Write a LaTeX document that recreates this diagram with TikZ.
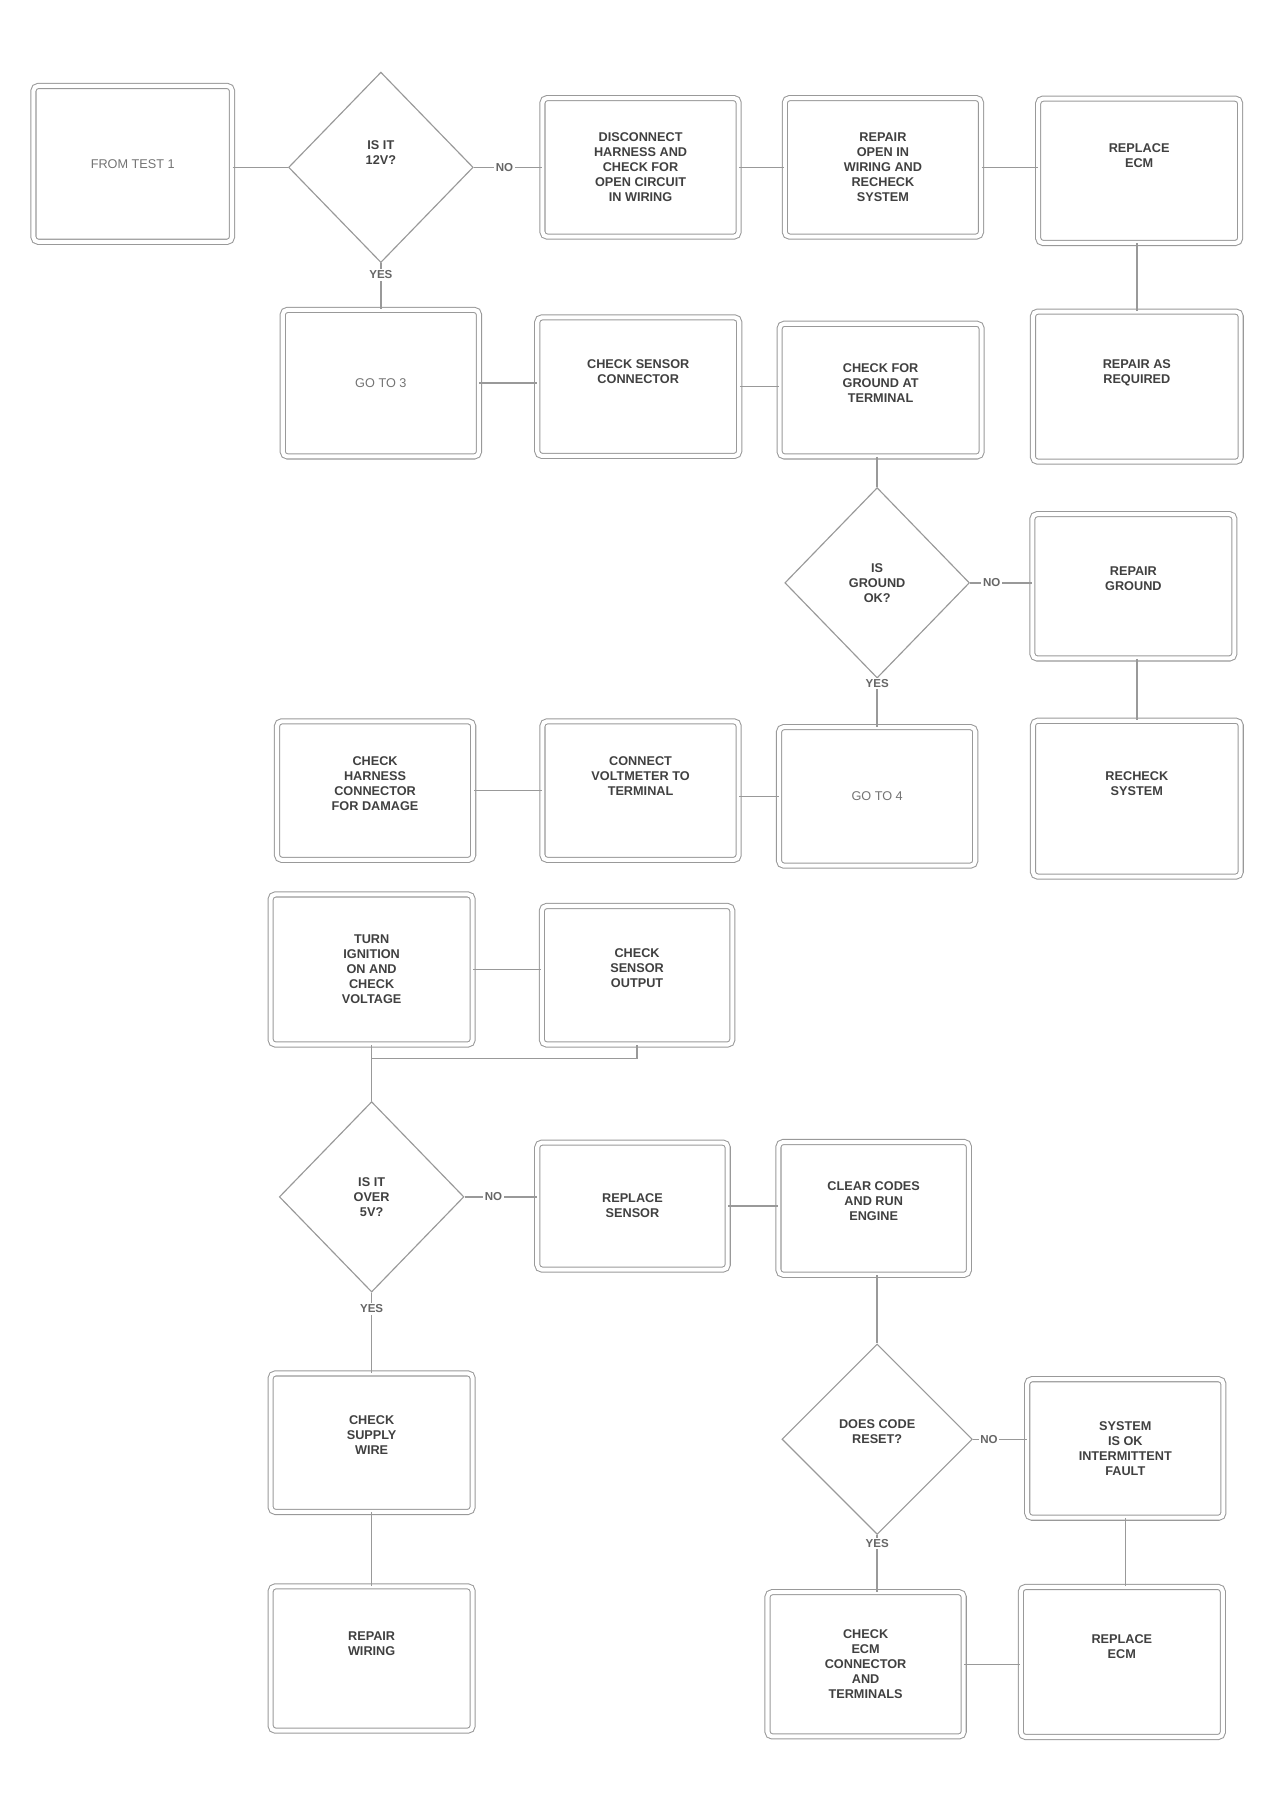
\documentclass[tikz,border=0pt]{standalone}
\usepackage{fontspec}
\setmainfont{Liberation Sans}
\usetikzlibrary{shapes.geometric}
\begin{document}
\begin{tikzpicture}[x=1pt,y=-1pt,
  box/.style={draw=black!40, line width=0.9pt, double=white, double distance=3.5pt,
    rounded corners=4pt, minimum width=170pt, minimum height=120pt, align=center,
    font=\fontsize{11}{13}\selectfont\bfseries, text=black!75, inner sep=2pt},
  lightbox/.style={box, font=\fontsize{11}{13}\selectfont, text=black!55},
  dia/.style={diamond, draw=black!40, line width=1pt, minimum width=160pt,
    minimum height=165pt, inner sep=0pt, align=center,
    font=\fontsize{11}{13}\selectfont\bfseries, text=black!75},
  conn/.style={draw=black!40, line width=1.2pt},
  yn/.style={fill=white, inner sep=1.5pt, font=\fontsize{10}{12}\selectfont\bfseries, text=black!60}]
\useasboundingbox (0,0) rectangle (1110,1570);

% row 1
\node[lightbox, minimum width=172pt, minimum height=135pt] (st) at (115,142) {FROM TEST 1};
\node[dia] (d1) at (330,145) {IS IT\\12V?\\ \\ };
\node[box] (b1) at (555,145) {DISCONNECT\\HARNESS AND\\CHECK FOR\\OPEN CIRCUIT\\IN WIRING};
\node[box] (b2) at (765,145) {REPAIR\\OPEN IN\\WIRING AND\\RECHECK\\SYSTEM};
\node[box, minimum width=175pt, minimum height=125pt] (b3) at (987,148) {REPLACE\\ECM\\ \\ };

% row 2
\node[lightbox, minimum height=127pt] (b5) at (330,332) {GO TO 3};
\node[box, minimum width=175pt] (b6) at (553,335) {CHECK SENSOR\\CONNECTOR\\ \\ };
\node[box, minimum width=175pt, minimum height=115pt] (b7) at (763,338) {CHECK FOR\\GROUND AT\\TERMINAL\\ };
\node[box, minimum width=180pt, minimum height=130pt] (b4) at (985,335) {REPAIR AS\\REQUIRED\\ \\ };

% decision 2
\node[dia] (d2) at (760,505) {IS\\GROUND\\OK?};
\node[box, minimum width=175pt, minimum height=125pt] (b8) at (982,508) {REPAIR\\GROUND\\ };
\node[box, minimum width=180pt, minimum height=135pt] (b9) at (985,692) {RECHECK\\SYSTEM\\ \\ };

% row 4
\node[lightbox, minimum height=120pt] (b10) at (760,690) {GO TO 4};
\node[box] (b12) at (555,685) {CONNECT\\VOLTMETER TO\\TERMINAL\\ \\ };
\node[box] (b11) at (325,685) {CHECK\\HARNESS\\CONNECTOR\\FOR DAMAGE\\ };

% row 5
\node[box, minimum width=175pt, minimum height=130pt] (b13) at (322,840) {TURN\\IGNITION\\ON AND\\CHECK\\VOLTAGE};
\node[box, minimum width=165pt] (b14) at (552,845) {CHECK\\SENSOR\\OUTPUT\\ };
\coordinate (j1) at (322,917);

% decision 3
\node[dia] (d3) at (322,1037) {IS IT\\OVER\\5V?};
\node[box, minimum width=165pt, minimum height=110pt] (b15) at (548,1045) {REPLACE\\SENSOR};
\node[box, minimum width=165pt, minimum height=115pt] (b16) at (757,1047) {CLEAR CODES\\AND RUN\\ENGINE\\ };
\node[box, minimum width=175pt] (b17) at (322,1250) {CHECK\\SUPPLY\\WIRE\\ };
\node[box, minimum width=175pt, minimum height=125pt] (b18) at (322,1437) {REPAIR\\WIRING\\ \\ };

% decision 4
\node[dia, minimum width=165pt] (d4) at (760,1247) {DOES CODE\\RESET?\\ };
\node[box, minimum width=170pt] (b19) at (975,1255) {SYSTEM\\IS OK\\INTERMITTENT\\FAULT};
\node[box, minimum width=175pt, minimum height=130pt] (b20) at (972,1440) {REPLACE\\ECM\\ \\ };
\node[box, minimum width=170pt, minimum height=125pt] (b21) at (750,1442) {CHECK\\ECM\\CONNECTOR\\AND\\TERMINALS};

% connectors
\draw[conn] (st.east |- d1) -- (d1.west);
\draw[conn] (d1.east) -- node[yn, pos=0.45] {NO} (d1.east -| b1.west);
\draw[conn] (b1.east) -- (b1.east -| b2.west);
\draw[conn] (b2.east) -- (b2.east -| b3.west);
\draw[conn] (b3.south -| b4) -- (b4.north);
\draw[conn] (d1.south) -- node[yn, pos=0.25] {YES} (b5.north);
\draw[conn] (b5.east) -- (b5.east -| b6.west);
\draw[conn] (b6.east) -- (b6.east -| b7.west);
\draw[conn] (b7.south -| d2) -- (d2.north);
\draw[conn] (d2.east) -- node[yn, pos=0.35] {NO} (d2.east -| b8.west);
\draw[conn] (b8.south -| b9) -- (b9.north);
\draw[conn] (d2.south) -- node[yn, pos=0.1] {YES} (d2.south |- b10.north);
\draw[conn] (b10.west) -- (b10.west -| b12.east);
\draw[conn] (b12.west) -- (b12.west -| b11.east);
\draw[conn] (b13.east) -- (b13.east -| b14.west);
\draw[conn] (b14.south) |- (j1);
\draw[conn] (b13.south) -- (j1) -- (d3.north);
\draw[conn] (d3.east) -- node[yn, pos=0.4] {NO} (d3.east -| b15.west);
\draw[conn] (b15.east) -- (b15.east -| b16.west);
\draw[conn] (b16.south -| d4) -- (d4.north);
\draw[conn] (d3.south) -- node[yn, pos=0.2] {YES} (d3.south |- b17.north);
\draw[conn] (b17.south) -- (b17.south |- b18.north);
\draw[conn] (d4.east) -- node[yn, pos=0.3] {NO} (d4.east -| b19.west);
\draw[conn] (b19.south) -- (b19.south |- b20.north);
\draw[conn] (d4.south) -- node[yn, pos=0.15] {YES} (d4.south |- b21.north);
\draw[conn] (b21.east) -- (b21.east -| b20.west);
\end{tikzpicture}
\end{document}
